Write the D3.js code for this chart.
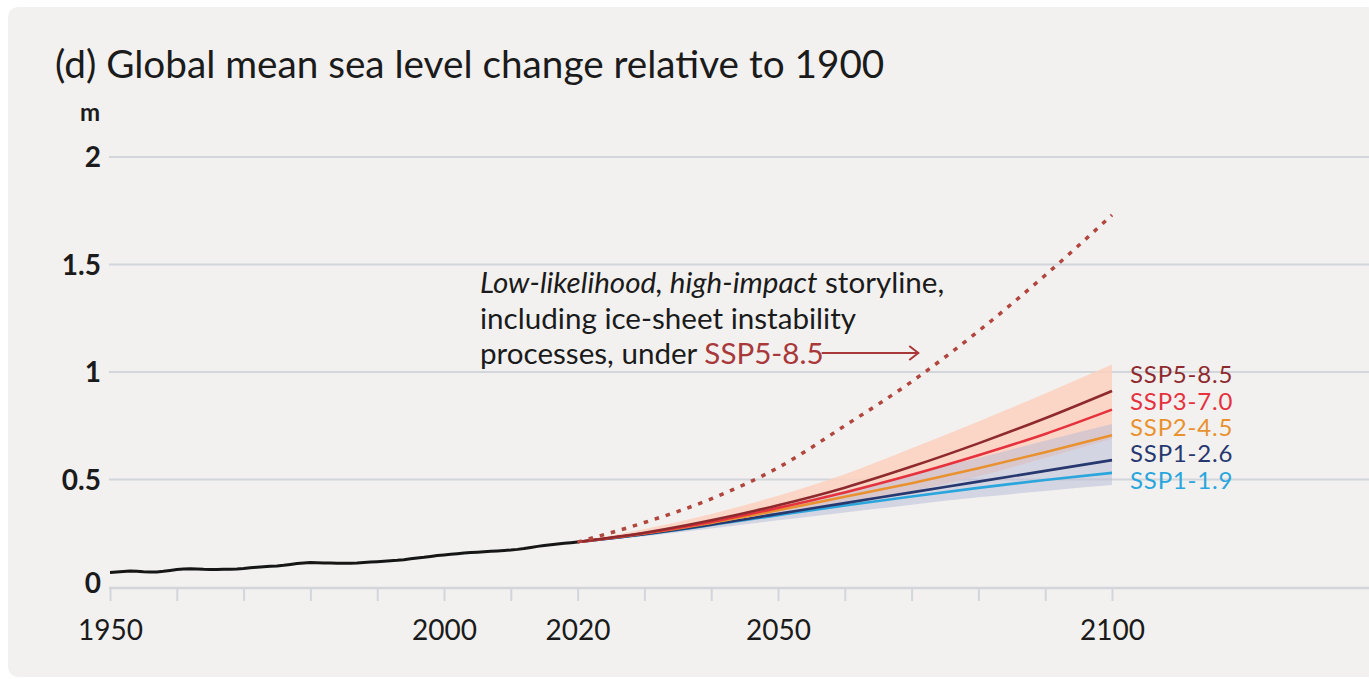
<!DOCTYPE html>
<html>
<head>
<meta charset="utf-8">
<script src="https://cdn.jsdelivr.net/npm/d3@7"></script>
<style>
  html, body { margin: 0; padding: 0; background: #ffffff; }
  svg { display: block; font-family: Lato, "Open Sans", sans-serif; }
</style>
</head>
<body>
<svg id="chart" width="1369" height="679"></svg>
<script>
// Observed global mean sea level (m, relative to 1900), yearly 1950–2020
const histYears = d3.range(1950, 2021);
const histValues = [
  0.068, 0.070, 0.072, 0.074, 0.073, 0.071, 0.070, 0.070, 0.073, 0.077,
  0.081, 0.084, 0.085, 0.084, 0.082, 0.081, 0.081, 0.082, 0.083, 0.084,
  0.086, 0.089, 0.092, 0.094, 0.096, 0.098, 0.101, 0.105, 0.109, 0.112,
  0.114, 0.113, 0.112, 0.112, 0.111, 0.111, 0.111, 0.112, 0.114, 0.116,
  0.118, 0.120, 0.122, 0.124, 0.127, 0.131, 0.135, 0.138, 0.142, 0.146,
  0.149, 0.152, 0.155, 0.158, 0.160, 0.162, 0.164, 0.166, 0.168, 0.170,
  0.172, 0.175, 0.179, 0.184, 0.189, 0.193, 0.197, 0.200, 0.203, 0.206,
  0.209
];

// Projections, decadal 2020–2100
const projYears = [2020, 2030, 2040, 2050, 2060, 2070, 2080, 2090, 2100];
const ssp585 = [0.209, 0.252, 0.310, 0.380, 0.462, 0.560, 0.668, 0.785, 0.912];
const ssp370 = [0.209, 0.250, 0.302, 0.368, 0.440, 0.522, 0.613, 0.712, 0.825];
const ssp245 = [0.209, 0.249, 0.298, 0.357, 0.420, 0.483, 0.552, 0.627, 0.706];
const ssp126 = [0.209, 0.246, 0.290, 0.340, 0.390, 0.440, 0.490, 0.540, 0.590];
const ssp119 = [0.209, 0.245, 0.288, 0.334, 0.379, 0.421, 0.461, 0.498, 0.531];

// Likely ranges for SSP5-8.5 and SSP1-2.6
const ssp585Low  = [0.205, 0.238, 0.280, 0.330, 0.385, 0.445, 0.515, 0.600, 0.690];
const ssp585High = [0.212, 0.270, 0.340, 0.425, 0.525, 0.645, 0.770, 0.900, 1.035];
const ssp126Low  = [0.205, 0.236, 0.272, 0.310, 0.347, 0.383, 0.417, 0.447, 0.474];
const ssp126High = [0.212, 0.258, 0.310, 0.375, 0.448, 0.525, 0.600, 0.680, 0.758];

// Low-likelihood, high-impact storyline under SSP5-8.5
const storyYears  = [2020, 2030, 2040, 2050, 2060, 2070, 2080, 2090, 2100];
const storyValues = [0.209, 0.300, 0.410, 0.555, 0.750, 0.955, 1.190, 1.450, 1.730];

const scenarioNames  = ["SSP5-8.5", "SSP3-7.0", "SSP2-4.5", "SSP1-2.6", "SSP1-1.9"];
const scenarioColors = ["#8e2a2d", "#e5323d", "#e9912f", "#27386f", "#2aa6dc"];

const yTicks = [0, 0.5, 1, 1.5, 2];
const xTicks = d3.range(1950, 2101, 10);
const xLabels = [1950, 2000, 2020, 2050, 2100];

const W = 1369, H = 679;
const svg = d3.select("#chart");

const x = d3.scaleLinear().domain([1950, 2100]).range([110, 1112]);
const y = d3.scaleLinear().domain([0, 2]).range([587, 157]);
const plotRight = W;

// Panel background
svg.append("rect")
  .attr("x", 8).attr("y", 7)
  .attr("width", W).attr("height", 670)
  .attr("rx", 10)
  .attr("fill", "#f2f1f0");

// Title and unit
svg.append("text")
  .attr("x", 55).attr("y", 78)
  .attr("font-size", 38.7)
  .attr("fill", "#1b1b1b")
  .text("(d) Global mean sea level change relative to 1900");

svg.append("text")
  .attr("x", 100).attr("y", 121)
  .attr("text-anchor", "end")
  .attr("font-size", 24)
  .attr("font-weight", 700)
  .attr("fill", "#1b1b1b")
  .text("m");

// Horizontal gridlines
svg.append("g")
  .selectAll("line")
  .data(yTicks.filter(d => d > 0))
  .join("line")
  .attr("x1", 109).attr("x2", plotRight)
  .attr("y1", d => y(d)).attr("y2", d => y(d))
  .attr("stroke", "#d2d5da")
  .attr("stroke-width", 2);

// Y axis labels
const yAxis = d3.axisLeft(y)
  .tickValues(yTicks)
  .tickSize(0)
  .tickPadding(0)
  .tickFormat(d => String(d));
const yAxisG = svg.append("g").attr("transform", "translate(101,0)").call(yAxis);
yAxisG.select(".domain").remove();
yAxisG.selectAll("text")
  .attr("font-family", "Lato, sans-serif")
  .attr("font-size", 28)
  .attr("font-weight", 700)
  .attr("fill", "#1b1b1b")
  .attr("dy", d => d === 0 ? "0.2em" : "0.34em");

// X axis
const xAxis = d3.axisBottom(x)
  .tickValues(xTicks)
  .tickSize(14)
  .tickPadding(19)
  .tickFormat(d => xLabels.includes(d) ? String(d) : "");
const xAxisG = svg.append("g").attr("transform", `translate(0,${y(0)})`).call(xAxis);
xAxisG.select(".domain").remove();
xAxisG.selectAll(".tick line").attr("stroke", "#d2d5da").attr("stroke-width", 2);
xAxisG.selectAll("text")
  .attr("font-family", "Lato, sans-serif")
  .attr("font-size", 28)
  .attr("fill", "#1b1b1b");
svg.append("line")
  .attr("x1", 109).attr("x2", plotRight)
  .attr("y1", y(0) + 1).attr("y2", y(0) + 1)
  .attr("stroke", "#d2d5da")
  .attr("stroke-width", 2.5);

// Likely ranges
const band = (lo, hi) => d3.area()
  .x((d, i) => x(projYears[i]))
  .y0((d, i) => y(lo[i]))
  .y1((d, i) => y(hi[i]))
  .curve(d3.curveMonotoneX)(projYears);

svg.append("path")
  .attr("d", band(ssp585Low, ssp585High))
  .attr("fill", "#fcd0bc")
  .attr("fill-opacity", 0.8);
svg.append("path")
  .attr("d", band(ssp126Low, ssp126High))
  .attr("fill", "#b6b9d6")
  .attr("fill-opacity", 0.5);

// Median projections (drawn low to high so the upper scenarios sit on top)
const projSeries = [ssp585, ssp370, ssp245, ssp126, ssp119];
const projLine = d3.line()
  .x((d, i) => x(projYears[i]))
  .y(d => y(d))
  .curve(d3.curveMonotoneX);
for (let k = projSeries.length - 1; k >= 0; k--) {
  svg.append("path")
    .attr("d", projLine(projSeries[k]))
    .attr("fill", "none")
    .attr("stroke", scenarioColors[k])
    .attr("stroke-width", 2.6);
}

// Observed record
svg.append("path")
  .attr("d", d3.line()
    .x((d, i) => x(histYears[i]))
    .y(d => y(d))(histValues))
  .attr("fill", "none")
  .attr("stroke", "#161616")
  .attr("stroke-width", 3)
  .attr("stroke-linejoin", "round");

// Storyline (dotted)
svg.append("path")
  .attr("d", d3.line()
    .x((d, i) => x(storyYears[i]))
    .y(d => y(d))
    .curve(d3.curveMonotoneX)(storyValues))
  .attr("fill", "none")
  .attr("stroke", "#b0463d")
  .attr("stroke-width", 3.5)
  .attr("stroke-dasharray", "4.5 7");

// Scenario labels
svg.append("g")
  .selectAll("text")
  .data(scenarioNames)
  .join("text")
  .attr("x", x(2100) + 18)
  .attr("y", (d, i) => y(0.988) + i * 26.4)
  .attr("dy", "0.36em")
  .attr("font-size", 24)
  .attr("letter-spacing", 0.8)
  .attr("fill", (d, i) => scenarioColors[i])
  .text(d => d);

// Storyline annotation
const noteX = 480;
const note = svg.append("g").attr("font-size", 29.6).attr("fill", "#1b1b1b");
const l1 = note.append("text").attr("x", noteX).attr("y", 293);
l1.append("tspan").attr("font-style", "italic").text("Low-likelihood, high-impact");
l1.append("tspan").text(" storyline,");
note.append("text").attr("x", noteX).attr("y", 329).text("including ice-sheet instability");
const l3 = note.append("text").attr("x", noteX).attr("y", 364);
l3.append("tspan").text("processes, under ");
l3.append("tspan").attr("fill", "#a8383a").text("SSP5-8.5");

const arrowStart = l3.node().getComputedTextLength() + noteX - 2;
const arrowEnd = x(2071);
const arrowY = 353;
svg.append("line")
  .attr("x1", arrowStart).attr("x2", arrowEnd)
  .attr("y1", arrowY).attr("y2", arrowY)
  .attr("stroke", "#a8383a").attr("stroke-width", 2);
svg.append("path")
  .attr("d", `M${arrowEnd - 9},${arrowY - 7} L${arrowEnd},${arrowY} L${arrowEnd - 9},${arrowY + 7}`)
  .attr("fill", "none")
  .attr("stroke", "#a8383a")
  .attr("stroke-width", 2);
</script>
</body>
</html>
